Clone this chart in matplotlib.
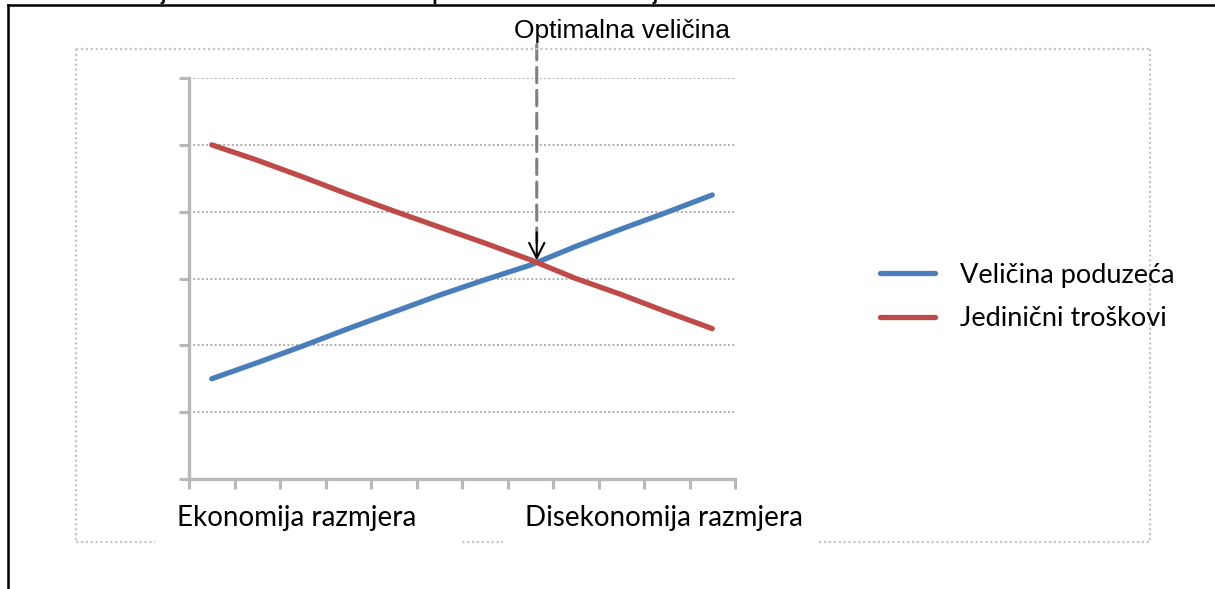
import numpy as np
import matplotlib
matplotlib.use("Agg")
import matplotlib.pyplot as plt
from matplotlib.lines import Line2D
from matplotlib.patches import Rectangle

# size steps on the x axis, cost / size index on y
steps = np.arange(12)
velicina = [1.5, 1.74, 1.99, 2.25, 2.5, 2.75, 2.98, 3.2, 3.48, 3.74, 3.99, 4.25]
troskovi = [5.0, 4.77, 4.52, 4.26, 4.01, 3.77, 3.53, 3.28, 3.0, 2.76, 2.5, 2.25]
series_names = ["Veličina poduzeća", "Jedinični troškovi"]
x_labels = ["Ekonomija razmjera", "Disekonomija razmjera"]
optimum_label = "Optimalna veličina"
caption = "Ovisnost jediničnih troškova o veličini poduzeća kroz ekonomije"

W, H = 1215, 589
BLUE = "#4A7EBB"
RED = "#BE4B48"
GRID = "#AFAFAF"
AXIS = "#B8B8B8"


def fx(px):
    return px / W


def fy(py):
    return 1 - py / H


fig = plt.figure(figsize=(W / 100, H / 100), dpi=100)
fig.patch.set_facecolor("white")

# outer frame (only top and left edges are inside the image)
fig.add_artist(Line2D([fx(8), 1], [fy(5), fy(5)], color="black", lw=1.8))
fig.add_artist(Line2D([fx(8), fx(8)], [fy(5), 0], color="black", lw=1.8))

# caption above the frame, mostly outside the canvas
fig.text(fx(72), 1.0, caption, fontsize=14, fontweight="bold",
         family="Liberation Sans", va="baseline", ha="left")

# dotted chart-area border
box = dict(color="#C6C6C6", lw=1.6, ls=(0, (1, 1.2)), zorder=1)
fig.add_artist(Line2D([fx(76), fx(1150)], [fy(49), fy(49)], **box))
fig.add_artist(Line2D([fx(76), fx(76)], [fy(49), fy(542)], **box))
fig.add_artist(Line2D([fx(1150), fx(1150)], [fy(49), fy(542)], **box))
fig.add_artist(Line2D([fx(76), fx(1150)], [fy(542), fy(542)], **box))
# white label boxes break the bottom border
for x0, x1 in [(155, 460), (503, 818)]:
    fig.add_artist(Rectangle((fx(x0), fy(548)), fx(x1 - x0), 12 / H,
                             facecolor="white", edgecolor="none", zorder=2))

ax = fig.add_axes([fx(189), fy(479), fx(735 - 189), (479 - 78) / H])
ax.set_xlim(0, 12)
ax.set_ylim(0, 6)

ax.plot(steps + 0.5, velicina, color=BLUE, lw=3.8, solid_capstyle="round",
        solid_joinstyle="round", label=series_names[0])
ax.plot(steps + 0.5, troskovi, color=RED, lw=3.8, solid_capstyle="round",
        solid_joinstyle="round", label=series_names[1])

ax.set_yticks(range(7))
ax.set_xticks(range(13))
ax.set_yticklabels([])
ax.set_xticklabels([])
ax.tick_params(axis="both", length=7, width=2.2, color=AXIS, direction="out")
ax.grid(axis="y", color=GRID, lw=1.4, ls=(0, (1, 1.2)))
ax.set_axisbelow(True)
for side in ["top", "right"]:
    ax.spines[side].set_visible(False)
for side in ["left", "bottom"]:
    ax.spines[side].set_color(AXIS)
    ax.spines[side].set_linewidth(2.4)

# where the two curves cross
diff = np.array(troskovi) - np.array(velicina)
i = int(np.where(np.diff(np.sign(diff)) != 0)[0][0])
t = diff[i] / (diff[i] - diff[i + 1])
xc = steps[i] + 0.5 + t
yc = velicina[i] + t * (velicina[i + 1] - velicina[i])

ax.annotate("", xy=(xc, yc + 0.3), xytext=(xc, 6.5),
            arrowprops=dict(arrowstyle="-", color="#7F7F7F", lw=2.2,
                            linestyle=(0, (5, 2.5)), shrinkA=0, shrinkB=0),
            annotation_clip=False)
ax.annotate("", xy=(xc, yc + 0.03), xytext=(xc, yc + 0.45),
            arrowprops=dict(arrowstyle="->,head_length=1.1,head_width=0.55",
                            color="black", lw=1.5, shrinkA=0, shrinkB=0),
            annotation_clip=False)

fig.text(fx(622), fy(31), optimum_label, fontsize=19, family="Liberation Sans",
         ha="center", va="center")

fig.text(fx(177), fy(518), x_labels[0], fontsize=20, family="Lato",
         ha="left", va="center")
fig.text(fx(525), fy(518), x_labels[1], fontsize=20, family="Lato",
         ha="left", va="center")

fig.legend(loc="center left", bbox_to_anchor=(fx(856), fy(297)), frameon=False,
           prop=dict(family="Lato", size=19.5), handlelength=2.0,
           handletextpad=0.95, labelspacing=0.7)

fig.savefig("out.png", dpi=100)
